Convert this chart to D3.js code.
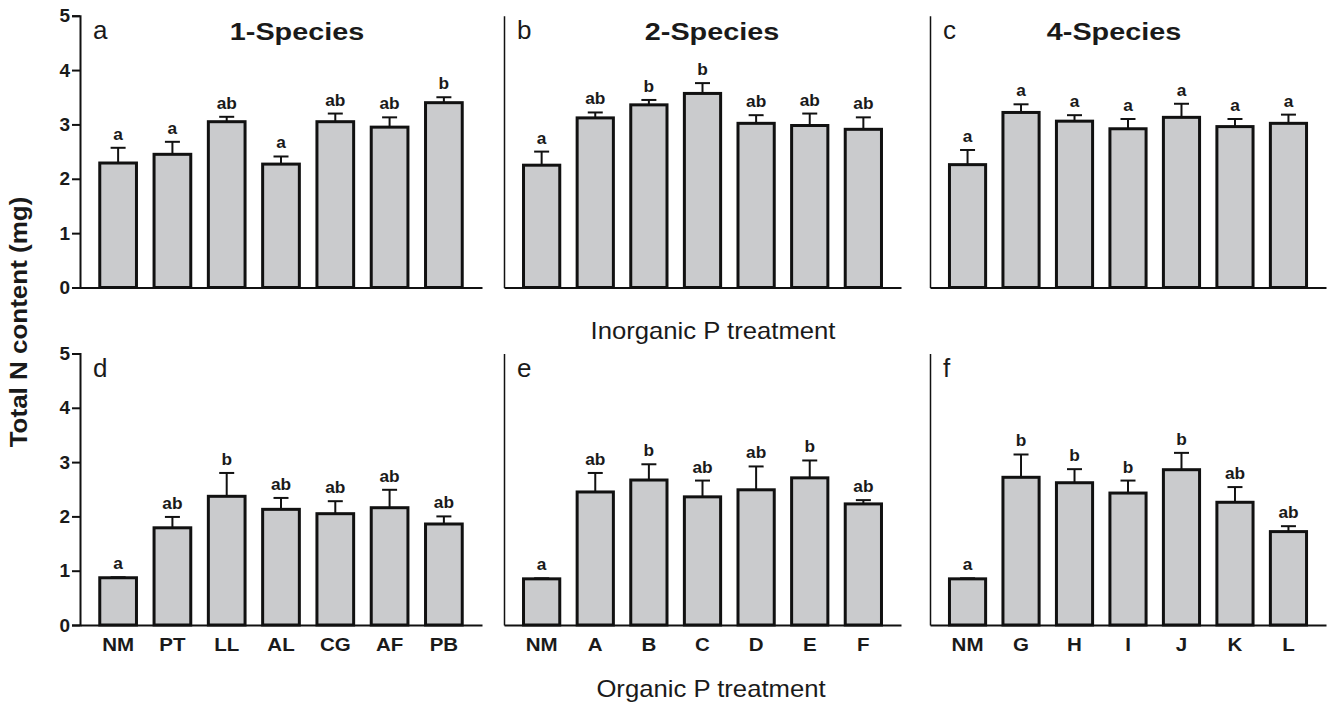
<!DOCTYPE html>
<html>
<head>
<meta charset="utf-8">
<script src="https://cdn.jsdelivr.net/npm/d3@7"></script>
<style>
  body { margin: 0; background: #fff; }
  text { font-family: "Liberation Sans", Arial, sans-serif; fill: #1a1a1a; }
</style>
</head>
<body>
<div id="container"></div>
<script>
var totalWidth = 1333,
    totalHeight = 705;

// categories
var catsMono = ['NM', 'PT', 'LL', 'AL', 'CG', 'AF', 'PB'];
var catsTwo = ['NM', 'A', 'B', 'C', 'D', 'E', 'F'];
var catsFour = ['NM', 'G', 'H', 'I', 'J', 'K', 'L'];
var yTicks = [0, 1, 2, 3, 4, 5];

// inorganic P (top row) - mean, SE, letters
var meanA = [2.29, 2.45, 3.05, 2.27, 3.05, 2.95, 3.40];
var seA = [0.28, 0.23, 0.09, 0.14, 0.15, 0.18, 0.10];
var sigA = ['a', 'a', 'ab', 'a', 'ab', 'ab', 'b'];

var meanB = [2.25, 3.12, 3.36, 3.57, 3.02, 2.98, 2.91];
var seB = [0.25, 0.10, 0.09, 0.19, 0.15, 0.22, 0.22];
var sigB = ['a', 'ab', 'b', 'b', 'ab', 'ab', 'ab'];

var meanC = [2.26, 3.22, 3.06, 2.92, 3.13, 2.96, 3.02];
var seC = [0.27, 0.15, 0.11, 0.18, 0.25, 0.14, 0.16];
var sigC = ['a', 'a', 'a', 'a', 'a', 'a', 'a'];

// organic P (bottom row)
var meanD = [0.87, 1.79, 2.37, 2.13, 2.05, 2.16, 1.86];
var seD = [0.01, 0.20, 0.43, 0.21, 0.23, 0.33, 0.14];
var sigD = ['a', 'ab', 'b', 'ab', 'ab', 'ab', 'ab'];

var meanE = [0.85, 2.45, 2.67, 2.36, 2.49, 2.71, 2.23];
var seE = [0.01, 0.35, 0.29, 0.30, 0.43, 0.32, 0.07];
var sigE = ['a', 'ab', 'b', 'ab', 'ab', 'b', 'ab'];

var meanF = [0.85, 2.72, 2.62, 2.43, 2.86, 2.26, 1.72];
var seF = [0.01, 0.42, 0.25, 0.23, 0.31, 0.28, 0.10];
var sigF = ['a', 'b', 'b', 'b', 'b', 'ab', 'ab'];

var panelLetters = ['a', 'b', 'c', 'd', 'e', 'f'];
var titles = ['1-Species', '2-Species', '4-Species'];

// layout
var rows = [{top: 15.7, zero: 287.5}, {top: 353.5, zero: 625}];
var cols = [[80, 482], [504, 901], [930, 1326]];
var titleX = [297, 712, 1114];

var panels = [
  {cats: catsMono, mean: meanA, se: seA, sig: sigA, row: 0, col: 0},
  {cats: catsTwo,  mean: meanB, se: seB, sig: sigB, row: 0, col: 1},
  {cats: catsFour, mean: meanC, se: seC, sig: sigC, row: 0, col: 2},
  {cats: catsMono, mean: meanD, se: seD, sig: sigD, row: 1, col: 0},
  {cats: catsTwo,  mean: meanE, se: seE, sig: sigE, row: 1, col: 1},
  {cats: catsFour, mean: meanF, se: seF, sig: sigF, row: 1, col: 2}
];

var svg = d3.select("#container")
            .append("svg")
            .attr("width", totalWidth)
            .attr("height", totalHeight);

function stretched(g, x, y, sx, str) {
  return g.append("text")
          .attr("transform", "translate(" + x + "," + y + ") scale(" + sx + ",1)")
          .text(str);
}

panels.forEach(function(p, i) {
  var r = rows[p.row], c = cols[p.col];
  var yScale = d3.scaleLinear().domain([0, 5]).range([r.zero, r.top]);
  var xScale = d3.scaleBand()
                 .domain(p.cats)
                 .range(c)
                 .paddingInner(0.324)
                 .paddingOuter(0.364);
  var data = p.cats.map(function(k, j) {
    return {cat: k, mean: p.mean[j], se: p.se[j], sig: p.sig[j]};
  });
  var mid = function(d) { return xScale(d.cat) + xScale.bandwidth() / 2; };

  var g = svg.append("g").attr("class", "panel");

  // bars
  g.append("g").selectAll("rect")
   .data(data).enter()
   .append("rect")
   .attr("x", function(d) { return xScale(d.cat); })
   .attr("width", xScale.bandwidth())
   .attr("y", function(d) { return yScale(d.mean); })
   .attr("height", function(d) { return yScale(0) - yScale(d.mean); })
   .attr("fill", "#cacbcd")
   .attr("stroke", "#111")
   .attr("stroke-width", 3);

  // error bars (upper only)
  var eb = g.append("g").selectAll("g")
            .data(data).enter()
            .append("g")
            .attr("stroke", "#111")
            .attr("stroke-width", 2);
  eb.append("line")
    .attr("x1", mid)
    .attr("x2", mid)
    .attr("y1", function(d) { return yScale(d.mean); })
    .attr("y2", function(d) { return yScale(d.mean + d.se); });
  eb.append("line")
    .attr("x1", function(d) { return mid(d) - 7.5; })
    .attr("x2", function(d) { return mid(d) + 7.5; })
    .attr("y1", function(d) { return yScale(d.mean + d.se); })
    .attr("y2", function(d) { return yScale(d.mean + d.se); });

  // significance letters
  g.append("g").selectAll("text")
   .data(data).enter()
   .append("text")
   .attr("transform", function(d) {
     return "translate(" + mid(d) + "," + (yScale(d.mean + d.se) - 8) + ") scale(1.08,1)";
   })
   .attr("text-anchor", "middle")
   .attr("font-size", "16px")
   .attr("font-weight", "bold")
   .text(function(d) { return d.sig; });

  // x axis
  var xAxis = d3.axisBottom(xScale).tickSize(0).tickSizeOuter(0).tickPadding(12);
  if (p.row === 0) xAxis.tickFormat(function() { return ""; });
  var xg = g.append("g")
            .attr("class", "x-axis")
            .attr("transform", "translate(0," + yScale(0) + ")")
            .call(xAxis);
  xg.select(".domain").attr("stroke", "#111").attr("stroke-width", 2);
  xg.selectAll("text")
    .attr("font-size", "19px")
    .attr("font-weight", "bold")
    .attr("font-family", "Liberation Sans, Arial, sans-serif")
    .attr("fill", "#1a1a1a")
    .attr("transform", "scale(1.08,1)")
    .attr("x", function() {
      return 0;
    });
  xg.selectAll(".tick text").attr("dy", "0.75em");

  // y axis
  var yAxis = d3.axisLeft(yScale).tickSizeOuter(0);
  if (p.col === 0) {
    yAxis.tickValues(yTicks).tickSize(8).tickPadding(2).tickFormat(d3.format("d"));
  } else {
    yAxis.tickValues([]);
  }
  var yg = g.append("g")
            .attr("class", "y-axis")
            .attr("transform", "translate(" + c[0] + ",0)")
            .call(yAxis);
  yg.select(".domain").attr("stroke", "#111").attr("stroke-width", p.col === 0 ? 2 : 1.5);
  yg.selectAll(".tick line").attr("stroke", "#111").attr("stroke-width", 2);
  yg.selectAll("text")
    .attr("font-size", "19px")
    .attr("font-weight", "bold")
    .attr("font-family", "Liberation Sans, Arial, sans-serif")
    .attr("fill", "#1a1a1a");

  // panel letter
  g.append("text")
   .attr("x", c[0] + 13)
   .attr("y", r.top + 23)
   .attr("font-size", "26px")
   .text(panelLetters[i]);

  // column titles
  if (p.row === 0) {
    stretched(g, titleX[p.col], 40, 1.2, titles[p.col])
      .attr("text-anchor", "middle")
      .attr("font-size", "24px")
      .attr("font-weight", "bold");
  }
});

// shared axis titles
stretched(svg, 713, 339, 1.07, "Inorganic P treatment")
  .attr("text-anchor", "middle")
  .attr("font-size", "24px");
stretched(svg, 711, 697, 1.07, "Organic P treatment")
  .attr("text-anchor", "middle")
  .attr("font-size", "24px");
svg.append("text")
   .attr("transform", "translate(27,322) rotate(-90) scale(1.13,1)")
   .attr("text-anchor", "middle")
   .attr("font-size", "23px")
   .attr("font-weight", "bold")
   .text("Total N content (mg)");
</script>
</body>
</html>
